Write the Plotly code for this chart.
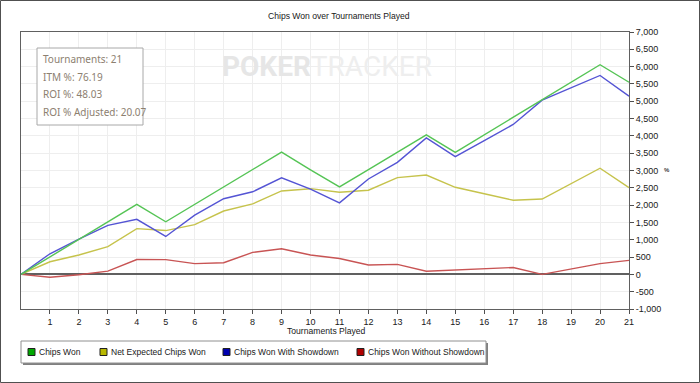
import plotly.graph_objects as go

# ---- data ----
tournaments = list(range(0, 22))
chips_won = [0, 510, 1010, 1510, 2020, 1520, 2020, 2520, 3020, 3530, 3020, 2525,
             3025, 3525, 4030, 3525, 4030, 4530, 5030, 5540, 6055, 5550]
net_expected = [0, 365, 560, 800, 1320, 1265, 1435, 1830, 2035, 2410, 2475, 2370,
                2430, 2795, 2870, 2515, 2330, 2140, 2175, 2610, 3065, 2505]
with_showdown = [0, 595, 1020, 1415, 1590, 1095, 1710, 2185, 2385, 2790, 2460, 2065,
                 2755, 3235, 3940, 3400, 3865, 4330, 5030, 5390, 5745, 5145]
without_showdown = [0, -85, -10, 95, 430, 425, 310, 335, 635, 740, 560, 460,
                    270, 290, 90, 125, 165, 200, 0, 150, 310, 405]

series_names = ["Chips Won", "Net Expected Chips Won", "Chips Won With Showdown",
                "Chips Won Without Showdown"]
series_values = [chips_won, net_expected, with_showdown, without_showdown]
line_colors = ["#55c455", "#c6c34c", "#5454d4", "#c85454"]
legend_colors = ["#00a800", "#b8b800", "#0000b0", "#b00000"]

x_ticks = list(range(1, 22))
y_ticks = list(range(-1000, 7001, 500))
y_tick_labels = ["-1,000", "-500", "0", "500", "1,000", "1,500", "2,000", "2,500",
                 "3,000", "3,500", "4,000", "4,500", "5,000", "5,500", "6,000",
                 "6,500", "7,000"]

stats_lines = ["Tournaments: 21", "ITM %: 76.19", "ROI %: 48.03", "ROI % Adjusted: 20.07"]

# ---- geometry helpers (pixel -> paper) ----
W, H = 700, 383
L, R, T, B = 21, 629, 32, 309
PW, PH = R - L, B - T


def px(x):
    return (x - L) / PW


def py(y):
    return (B - y) / PH


fig = go.Figure()
# draw order: red, yellow, blue, green on top
for i in [3, 1, 2, 0]:
    fig.add_trace(go.Scatter(x=tournaments, y=series_values[i], mode="lines",
                             name=series_names[i],
                             line=dict(color=line_colors[i], width=1.4),
                             showlegend=False, hoverinfo="skip"))

font = "Liberation Sans, Arial, sans-serif"
shapes = []
annotations = []

# outer frame
shapes.append(dict(type="rect", xref="paper", yref="paper",
                   x0=px(0.5), x1=px(699.5), y0=py(382.5), y1=py(0.5),
                   line=dict(color="#505050", width=1), layer="below"))

# stats box
shapes.append(dict(type="rect", xref="paper", yref="paper",
                   x0=px(37), x1=px(143), y0=py(125), y1=py(48),
                   line=dict(color="#a8a8a8", width=1), fillcolor="white", layer="above"))
for k, s in enumerate(stats_lines):
    annotations.append(dict(text=s, xref="paper", yref="paper", x=px(41), y=py(59 + k * 17.6),
                            xanchor="left", yanchor="middle", showarrow=False,
                            font=dict(family="Noto Sans, Open Sans, sans-serif", size=10,
                                      color="#8c8070")))

# watermark
annotations.append(dict(text="<b>POKER</b><span style='color:#eeeeee'>TRACKER</span>",
                        xref="paper", yref="paper", x=px(327), y=py(66),
                        xanchor="center", yanchor="middle", showarrow=False,
                        font=dict(family="Roboto, sans-serif", size=28, color="#e6e6e6")))

# title
annotations.append(dict(text="Chips Won over Tournaments Played", xref="paper", yref="paper",
                        x=px(339), y=py(16), xanchor="center", yanchor="middle",
                        showarrow=False, font=dict(family=font, size=8.6, color="#202020")))
# x axis title
annotations.append(dict(text="Tournaments Played", xref="paper", yref="paper",
                        x=px(326), y=py(331), xanchor="center", yanchor="middle",
                        showarrow=False, font=dict(family=font, size=8.6, color="#202020")))
# y axis unit label
annotations.append(dict(text="<b>%</b>", xref="paper", yref="paper",
                        x=px(667), y=py(170), xanchor="center", yanchor="middle",
                        showarrow=False, font=dict(family=font, size=6, color="#404040")))

# legend box with shadow
shapes.append(dict(type="rect", xref="paper", yref="paper",
                   x0=px(23), x1=px(488), y0=py(365), y1=py(343),
                   line=dict(width=0), fillcolor="#808080"))
shapes.append(dict(type="rect", xref="paper", yref="paper",
                   x0=px(21), x1=px(486), y0=py(363), y1=py(341),
                   line=dict(color="#909090", width=1), fillcolor="white"))
legend_x = [28, 100, 223, 357]
for i in range(4):
    x0 = legend_x[i]
    shapes.append(dict(type="rect", xref="paper", yref="paper",
                       x0=px(x0), x1=px(x0 + 7), y0=py(355.5), y1=py(348.5),
                       line=dict(color="#202020", width=1), fillcolor=legend_colors[i]))
    annotations.append(dict(text=series_names[i], xref="paper", yref="paper",
                            x=px(x0 + 9), y=py(352), xanchor="left", yanchor="middle",
                            showarrow=False, font=dict(family=font, size=8.5, color="#202020")))

fig.update_layout(
    width=W, height=H,
    margin=dict(l=L, r=W - R, t=T, b=H - B, pad=0),
    paper_bgcolor="white", plot_bgcolor="white",
    showlegend=False,
    shapes=shapes, annotations=annotations,
    xaxis=dict(range=[0, 21], tickvals=x_ticks, ticks="outside", ticklen=4,
               tickcolor="#505050", showline=True, linecolor="#606060", linewidth=1,
               mirror=True, showgrid=True, gridcolor="#eeeeee", gridwidth=1,
               zeroline=False, tickfont=dict(family=font, size=9, color="#202020")),
    yaxis=dict(range=[-1000, 7000], side="right", tickvals=y_ticks, ticktext=y_tick_labels,
               ticks="outside", ticklen=4, tickcolor="#505050", showline=True,
               linecolor="#606060", linewidth=1, mirror=True, showgrid=True,
               gridcolor="#eeeeee", gridwidth=1, zeroline=True, zerolinecolor="#606060",
               zerolinewidth=2, tickfont=dict(family=font, size=9, color="#202020")),
)

fig.write_html("out.html", config={"displayModeBar": False},
               post_script="document.body.style.margin='0';")
